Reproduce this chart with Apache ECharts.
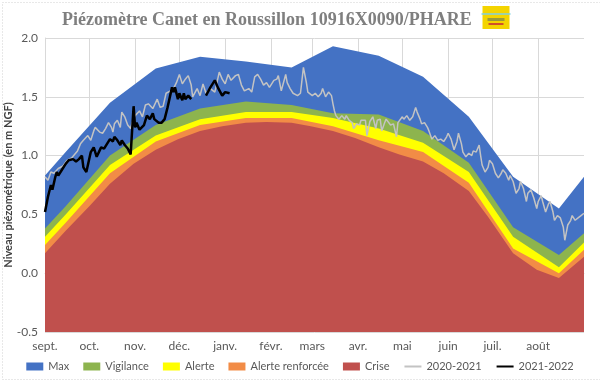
<!DOCTYPE html>
<html>
<head>
<meta charset="utf-8">
<script src="https://cdn.jsdelivr.net/npm/echarts@6/dist/echarts.min.js"></script>
<style>
html,body{margin:0;padding:0;background:#fff;}
#chart{width:600px;height:380px;}
</style>
</head>
<body>
<div id="chart"></div>
<script>
// Days counted from 1 September (season year, 365 days)
const monthStarts = [0, 30, 61, 91, 122, 153, 181, 212, 242, 273, 303, 334];
const monthLabels = ['sept.', 'oct.', 'nov.', 'déc.', 'janv.', 'févr.', 'mars', 'avr.', 'mai', 'juin', 'juil.', 'août'];

// Threshold bands (top of each band), mid-month vertices
const bandDays   = [0, 14, 44, 75, 105, 136, 167, 195, 226, 256, 287, 317, 348, 365];
const maxVals    = [0.83, 1.03, 1.45, 1.74, 1.84, 1.80, 1.75, 1.93, 1.85, 1.67, 1.33, 0.82, 0.55, 0.82];
const vigVals    = [0.38, 0.57, 1.00, 1.26, 1.40, 1.46, 1.43, 1.36, 1.35, 1.21, 0.94, 0.39, 0.155, 0.34];
const alerteVals = [0.31, 0.50, 0.92, 1.17, 1.31, 1.37, 1.37, 1.32, 1.23, 1.11, 0.86, 0.31, 0.05, 0.26];
const renfVals   = [0.24, 0.43, 0.85, 1.12, 1.26, 1.32, 1.32, 1.25, 1.13, 1.03, 0.77, 0.21, 0.00, 0.20];
const criseDays  = [0, 14, 30, 44, 60, 75, 90, 105, 120, 136, 150, 167, 180, 195, 210, 226, 240, 256, 270, 287, 300, 317, 333, 348, 365];
const criseVals  = [0.17, 0.36, 0.57, 0.76, 0.93, 1.05, 1.14, 1.21, 1.25, 1.28, 1.285, 1.28, 1.25, 1.21, 1.15, 1.07, 1.01, 0.95, 0.85, 0.70, 0.48, 0.17, 0.03, -0.04, 0.14];

// 2020-2021 levels
const grayDays = [0,2,4,6,9,12,15,18,22,24,26,29,31,33,34,37,39,41,43,45,46,47,49,51,52,54,56,58,59,61,64,66,68,70,73,76,78,80,82,85,87,89,91,93,95,97,99,100,103,105,107,109,112,115,118,120,122,124,126,129,131,133,135,138,140,142,144,146,148,150,152,155,157,158,160,161,163,164,166,168,169,171,173,174,175,177,178,181,183,185,187,188,190,192,194,195,196,197,199,201,203,204,206,208,209,211,213,214,217,218,220,222,224,225,227,228,230,231,234,236,238,239,242,243,245,247,249,251,252,254,255,257,259,260,262,264,266,268,270,272,273,275,277,279,280,282,283,285,287,289,290,292,294,295,296,298,300,301,303,305,307,309,310,312,314,315,317,319,321,322,324,326,327,329,331,333,334,336,337,339,341,342,344,345,347,349,351,352,354,356,357,359,361,363,365];
const grayVals = [0.82,0.79,0.86,0.85,0.89,0.91,0.96,0.98,1.04,1.10,1.13,1.17,1.13,1.21,1.24,1.20,1.19,1.23,1.28,1.24,1.20,1.27,1.30,1.24,1.37,1.33,1.26,1.23,1.28,1.34,1.38,1.33,1.43,1.44,1.40,1.48,1.41,1.42,1.53,1.55,1.57,1.62,1.69,1.61,1.65,1.68,1.60,1.50,1.57,1.51,1.61,1.53,1.57,1.54,1.71,1.65,1.61,1.69,1.64,1.68,1.69,1.60,1.55,1.57,1.54,1.67,1.69,1.65,1.60,1.62,1.58,1.64,1.65,1.68,1.55,1.54,1.69,1.62,1.57,1.53,1.54,1.51,1.53,1.64,1.75,1.62,1.54,1.51,1.53,1.50,1.53,1.57,1.50,1.54,1.51,1.44,1.38,1.34,1.31,1.34,1.31,1.34,1.30,1.28,1.23,1.27,1.26,1.30,1.30,1.17,1.29,1.33,1.23,1.30,1.31,1.21,1.28,1.31,1.26,1.27,1.16,1.28,1.33,1.31,1.34,1.30,1.33,1.41,1.37,1.31,1.27,1.28,1.24,1.21,1.14,1.17,1.13,1.14,1.12,1.16,1.19,1.14,1.05,1.12,1.19,1.10,1.03,0.99,1.02,1.00,1.04,1.03,1.09,1.00,0.92,0.86,0.90,0.96,0.93,0.85,0.81,0.85,0.88,0.85,0.79,0.83,0.78,0.68,0.72,0.78,0.72,0.61,0.68,0.71,0.64,0.55,0.61,0.66,0.61,0.52,0.59,0.61,0.52,0.45,0.49,0.47,0.39,0.28,0.41,0.45,0.49,0.45,0.47,0.49,0.51];

// 2021-2022 levels (null = missing)
const blackDays = [0,2,4,5,7,8,9,12,14,16,17,19,21,23,25,26,28,31,33,35,38,40,42,44,46,47,49,51,52,54,56,58,60,61,62,64,67,69,71,73,74,77,79,81,83,86,87,88,90,91,93,94,95,97,99,104,109,112,115,117,120,122,125];
const blackVals = [0.52,0.65,0.75,0.71,0.82,0.86,0.83,0.89,0.93,0.96,0.95,0.97,0.95,0.97,1.00,0.90,0.86,1.03,1.07,0.99,1.07,1.06,1.10,1.14,1.12,1.16,1.13,1.09,1.13,1.09,1.06,1.01,1.42,1.24,1.28,1.22,1.26,1.34,1.31,1.36,1.31,1.28,1.28,1.31,1.41,1.58,1.54,1.58,1.48,1.53,1.47,1.53,1.48,1.51,1.48,null,1.51,1.58,1.64,1.58,1.51,1.54,1.53];

const pairs = (xs, ys) => xs.map((x, i) => [x, ys[i] === null ? '-' : ys[i]]);

const FONT = 'Lato';
const chart = echarts.init(document.getElementById('chart'), null, {renderer: 'canvas'});

function band(name, days, vals, color) {
  return {
    name, type: 'line', data: pairs(days, vals), symbol: 'none', showSymbol: false,
    lineStyle: {width: 0, color}, itemStyle: {color},
    areaStyle: {color, opacity: 1, origin: 'start'},
    emphasis: {disabled: true}, silent: true
  };
}

chart.setOption({
  animation: false,
  backgroundColor: '#ffffff',
  title: {
    text: 'Piézomètre Canet en Roussillon 10916X0090/PHARE',
    left: 57, top: 6,
    textStyle: {fontFamily: 'Liberation Serif', fontWeight: 'bold', fontSize: 18, color: '#7f7f7f'}
  },
  graphic: [
    {type: 'rect', left: 0, top: 0, shape: {x: 0.5, y: 0.5, width: 598, height: 377},
     style: {fill: 'none', stroke: '#d0d0d0', lineWidth: 1, lineDash: [1, 2]}, silent: true},
    {type: 'group', left: 479, top: 6, children: [
      {type: 'rect', shape: {x: 1, y: 0, width: 27, height: 23}, style: {fill: '#f4d400'}},
      {type: 'line', shape: {x1: 0, y1: 8, x2: 29, y2: 8}, style: {stroke: '#7fd0e0', lineWidth: 1.5}},
      {type: 'rect', shape: {x: 6, y: 12, width: 17, height: 3}, style: {fill: '#9a9a3a'}},
      {type: 'rect', shape: {x: 7, y: 17, width: 15, height: 2}, style: {fill: '#d0502a'}}
    ]}
  ],
  grid: {left: 45, right: 16, top: 38, bottom: 48, containLabel: false, outerBoundsMode: 'none'},
  legend: {
    top: 356, left: 'center', itemWidth: 17, itemHeight: 8, itemGap: 14,
    textStyle: {fontFamily: FONT, fontSize: 11, color: '#595959'},
    data: [
      {name: 'Max', icon: 'rect'},
      {name: 'Vigilance', icon: 'rect'},
      {name: 'Alerte', icon: 'rect'},
      {name: 'Alerte renforcée', icon: 'rect'},
      {name: 'Crise', icon: 'rect'},
      {name: '2020-2021', itemStyle: {opacity: 0}},
      {name: '2021-2022', itemStyle: {opacity: 0}}
    ]
  },
  xAxis: {
    type: 'value', min: 0, max: 365,
    axisLine: {show: true, lineStyle: {color: '#d9d9d9'}},
    axisTick: {show: true, customValues: monthStarts, length: 4, lineStyle: {color: '#d9d9d9'}},
    axisLabel: {
      customValues: monthStarts, fontFamily: FONT, fontSize: 12, color: '#595959', margin: 8,
      formatter: v => monthLabels[monthStarts.indexOf(v)] || ''
    },
    splitLine: {show: true, lineStyle: {color: '#d9d9d9', width: 1}}
  },
  yAxis: {
    type: 'value', min: -0.5, max: 2.0, interval: 0.5,
    name: 'Niveau piézométrique (en m NGF)', nameLocation: 'middle', nameGap: 31, nameRotate: 90,
    nameMoveOverlap: false,
    nameTextStyle: {fontFamily: FONT, fontSize: 11, fontWeight: 'bold', color: '#404040'},
    axisLine: {show: true, lineStyle: {color: '#d9d9d9'}},
    axisTick: {show: false},
    axisLabel: {fontFamily: FONT, fontSize: 12, color: '#595959', margin: 7, formatter: v => v.toFixed(1)},
    splitLine: {show: true, lineStyle: {color: '#d9d9d9', width: 1}}
  },
  series: [
    band('Max', bandDays, maxVals, '#4472c4'),
    band('Vigilance', bandDays, vigVals, '#8db44e'),
    band('Alerte', bandDays, alerteVals, '#ffff00'),
    band('Alerte renforcée', bandDays, renfVals, '#f28c46'),
    band('Crise', criseDays, criseVals, '#c0504d'),
    {name: '2020-2021', type: 'line', data: pairs(grayDays, grayVals), symbol: 'none', showSymbol: false,
     lineStyle: {color: '#c3c3c3', width: 1.5}, itemStyle: {color: '#c3c3c3'}, z: 5},
    {name: '2021-2022', type: 'line', data: pairs(blackDays, blackVals), symbol: 'none', showSymbol: false,
     connectNulls: false, lineStyle: {color: '#000000', width: 2.5}, itemStyle: {color: '#000000'}, z: 6}
  ]
});
</script>
</body>
</html>
